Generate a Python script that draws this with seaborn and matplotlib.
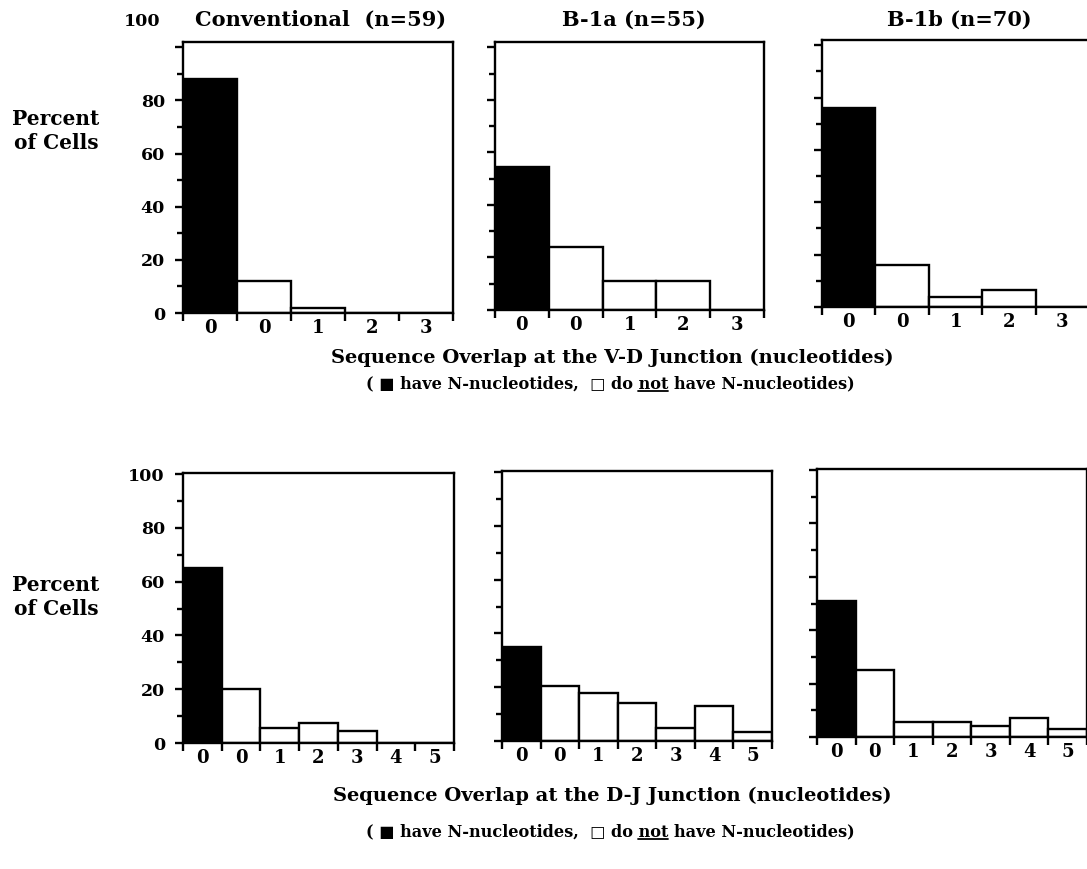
import matplotlib
matplotlib.use("Agg")
import matplotlib.pyplot as plt
from matplotlib.lines import Line2D
import seaborn as sns
import pandas as pd
import numpy as np

# ---------------- data ----------------
vd_labels = ["0", "0", "1", "2", "3"]
dj_labels = ["0", "0", "1", "2", "3", "4", "5"]

vd_conv = [88, 12, 1.7, 0, 0]
vd_b1a = [54.5, 24, 11, 11, 0]
vd_b1b = [76, 16, 4, 6.5, 0]

dj_conv = [65, 20, 5.5, 7.5, 4.5, 0, 0]
dj_b1a = [35, 20.5, 18, 14, 5, 13, 3.5]
dj_b1b = [51, 25, 5.5, 5.5, 4, 7, 3]

titles = ["Conventional  (n=59)", "B-1a (n=55)", "B-1b (n=70)"]
y_ticks = [0, 20, 40, 60, 80, 100]
y_minor = [10, 30, 50, 70, 90]

sns.set_theme(style="ticks")
plt.rcParams["font.family"] = ["DejaVu Serif", "DejaVu Sans"]
plt.rcParams["font.weight"] = "bold"
plt.rcParams["axes.labelweight"] = "bold"
plt.rcParams["text.color"] = "black"
plt.rcParams["xtick.color"] = "black"
plt.rcParams["ytick.color"] = "black"
plt.rcParams["xtick.labelcolor"] = "black"
plt.rcParams["ytick.labelcolor"] = "black"

W, H = 1087, 869
fig = plt.figure(figsize=(W / 100, H / 100), dpi=100)
fig.patch.set_facecolor("white")


def add_ax(l, t, r, b):
    return fig.add_axes([l / W, 1 - b / H, (r - l) / W, (b - t) / H])


def draw(ax, values, labels, ytop, show_y):
    n = len(values)
    df = pd.DataFrame({
        "bin": [f"b{i}" for i in range(n)],
        "pct": values,
        "kind": ["have"] + ["not"] * (n - 1),
    })
    sns.barplot(data=df, x="bin", y="pct", hue="kind",
                palette={"have": "black", "not": "white"}, dodge=False,
                width=1, edgecolor="black", linewidth=1.7, saturation=1,
                legend=False, ax=ax)
    ax.set_xlim(-0.5, n - 0.5)
    ax.set_ylim(0, ytop)
    ax.set_xlabel("")
    ax.set_ylabel("")
    ax.set_xticks(np.arange(n + 1) - 0.5)
    ax.set_xticklabels([])
    ax.set_xticks(np.arange(n), minor=True)
    ax.set_xticklabels(labels, minor=True, fontsize=13, fontweight="bold",
                       color="black")
    ax.tick_params(axis="x", which="major", direction="out", length=6,
                   width=1.7, bottom=True, color="black")
    ax.tick_params(axis="x", which="minor", length=0, pad=4)
    ax.set_yticks(y_ticks)
    ax.set_yticks(y_minor, minor=True)
    if show_y:
        ax.set_yticklabels(["0", "20", "40", "60", "80", "100"],
                           fontsize=12.5, fontweight="bold", color="black")
    else:
        ax.set_yticklabels([])
    ax.tick_params(axis="y", which="major", direction="out", length=6,
                   width=1.7, left=True, pad=7, color="black")
    ax.tick_params(axis="y", which="minor", direction="out", length=4,
                   width=1.7, left=True, color="black")
    for s in ax.spines.values():
        s.set_linewidth(1.7)
        s.set_color("black")
        s.set_visible(True)
    ax.set_facecolor("white")


top_boxes = [(183, 42, 453, 313), (495, 42, 764, 310), (822, 40, 1089, 307)]
bot_boxes = [(183, 473, 454, 743), (502, 471, 772, 741), (817, 469, 1087, 737)]
top_vals = [vd_conv, vd_b1a, vd_b1b]
bot_vals = [dj_conv, dj_b1a, dj_b1b]

top_axes = []
for i, (box, vals) in enumerate(zip(top_boxes, top_vals)):
    ax = add_ax(*box)
    draw(ax, vals, vd_labels, 102, i == 0)
    top_axes.append(ax)
    cx = (box[0] + box[2]) / 2 + (3 if i == 0 else 4)
    fig.text(cx / W, 1 - 20 / H, titles[i], ha="center", va="center",
             fontsize=15, fontweight="bold", color="black")

# the "100" label of the top row sits above the frame in the original
top_axes[0].set_yticklabels(["0", "20", "40", "60", "80", ""],
                            fontsize=12.5, fontweight="bold", color="black")
fig.text(161 / W, 1 - 22 / H, "100", ha="right", va="center",
         fontsize=12.5, fontweight="bold", color="black")

for i, (box, vals) in enumerate(zip(bot_boxes, bot_vals)):
    ax = add_ax(*box)
    draw(ax, vals, dj_labels, 100.4, i == 0)

# y labels
for yc in (131, 597):
    fig.text(56 / W, 1 - yc / H, "Percent\nof Cells", ha="center",
             va="center", multialignment="center", fontsize=14.5,
             fontweight="bold", linespacing=1.25, color="black")

# x titles and legend lines
renderer = fig.canvas.get_renderer()


def legend_line(yc):
    prefix = "( \u25A0 have N-nucleotides,  \u25A1 do "
    word = "not"
    rest = " have N-nucleotides)"
    props = dict(fontsize=11.6, fontweight="bold", color="black",
                 family=["DejaVu Serif", "DejaVu Sans"])
    t = fig.text(610 / W, 1 - yc / H, prefix + word + rest, ha="center",
                 va="baseline", **props)
    bb = t.get_window_extent(renderer)
    tmp = fig.text(0, 0, prefix, **props)
    wp = tmp.get_window_extent(renderer).width
    tmp.remove()
    tmp = fig.text(0, 0, word, **props)
    ww = tmp.get_window_extent(renderer).width
    tmp.remove()
    x0 = bb.x0 + wp
    x1 = x0 + ww
    yb = (H - yc) - 3
    fig.add_artist(Line2D([x0 / W, x1 / W], [yb / H, yb / H],
                          transform=fig.transFigure, color="black", lw=1.3))


fig.text(612 / W, 1 - 358 / H,
         "Sequence Overlap at the V-D Junction (nucleotides)",
         ha="center", va="center", fontsize=14, fontweight="bold",
         color="black")
legend_line(388)
fig.text(612 / W, 1 - 796 / H,
         "Sequence Overlap at the D-J Junction (nucleotides)",
         ha="center", va="center", fontsize=14, fontweight="bold",
         color="black")
legend_line(836)

fig.savefig("out.png", dpi=100, facecolor="white")
